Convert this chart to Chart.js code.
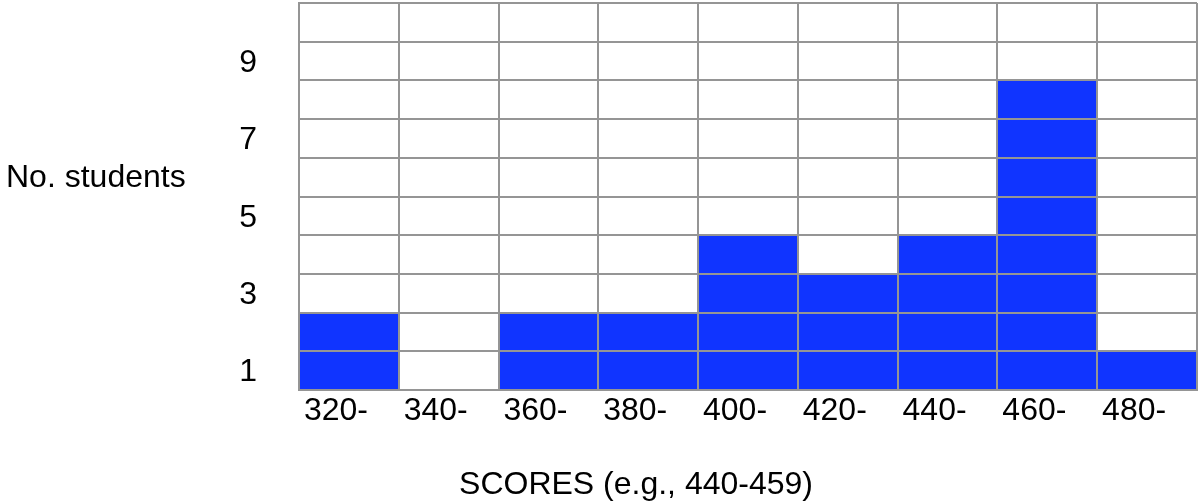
<!DOCTYPE html>
<html>
<head>
<meta charset="utf-8">
<script src="https://cdn.jsdelivr.net/npm/chart.js@4"></script>
<style>
  body { margin: 0; background: #fff; }
  canvas { display: block; }
</style>
</head>
<body>
<canvas id="myChart" width="1198" height="504"></canvas>
<script>
// datos del histograma
const categories = ['320-', '340-', '360-', '380-', '400-', '420-', '440-', '460-', '480-'];
const students = [2, 0, 2, 2, 4, 3, 4, 8, 1];
const yTickLabels = [1, 3, 5, 7, 9];

const gridGrey = '#959595';
const labelFont = { family: 'Liberation Sans, Arial, sans-serif', size: 32 };

// sin padding extra de las etiquetas
function noPad(scale) {
  scale.paddingTop = 0;
  scale.paddingBottom = 0;
  scale.paddingLeft = 0;
  scale.paddingRight = 0;
}

// titulos de ejes (horizontales, fuera del area)
const axisTitles = {
  id: 'axisTitles',
  afterDraw(chart) {
    const c = chart.ctx;
    c.save();
    c.fillStyle = '#000';
    c.font = '32px Liberation Sans, Arial, sans-serif';
    c.textBaseline = 'alphabetic';
    c.textAlign = 'left';
    c.fillText('No. students', 6, 187);
    c.textAlign = 'center';
    c.fillText('SCORES (e.g., 440-459)', 636, 494);
    c.restore();
  }
};

const ctx = document.getElementById('myChart');
new Chart(ctx, {
  type: 'bar',
  data: {
    labels: categories,
    datasets: [{
      label: 'No. students',
      data: students,
      backgroundColor: '#1034ff',
      borderWidth: 0,
      barPercentage: 1,
      categoryPercentage: 1,
      yAxisID: 'y'
    }]
  },
  options: {
    responsive: false,
    animation: false,
    layout: { padding: { top: 3, right: 1, left: 0, bottom: 0 } },
    plugins: {
      legend: { display: false },
      tooltip: { enabled: false }
    },
    scales: {
      x: {
        grid: { color: gridGrey, lineWidth: 2, drawTicks: false, offset: true, z: 1 },
        border: { color: gridGrey, width: 2, z: 1 },
        ticks: {
          color: '#000',
          font: labelFont,
          align: 'start',
          labelOffset: -45,
          padding: 2,
          maxRotation: 0,
          autoSkip: false
        },
        afterFit(scale) { scale.height = 114; noPad(scale); }
      },
      y: {
        min: 0,
        max: 10,
        grid: { color: gridGrey, lineWidth: 2, drawTicks: false, z: 1 },
        border: { color: gridGrey, width: 2, z: 1 },
        ticks: { display: false, stepSize: 1 },
        afterFit(scale) { scale.width = 0; noPad(scale); }
      },
      y2: {
        position: 'left',
        min: 0,
        max: 10,
        grid: { display: false, drawTicks: false },
        border: { display: false },
        afterBuildTicks(axis) {
          axis.ticks = yTickLabels.map(v => ({ value: v - 0.5 }));
        },
        ticks: {
          color: '#000',
          font: labelFont,
          padding: 42,
          labelOffset: 2,
          callback: (value) => String(value + 0.5)
        },
        afterFit(scale) { scale.width = 299; noPad(scale); }
      }
    }
  },
  plugins: [axisTitles]
});
</script>
</body>
</html>
